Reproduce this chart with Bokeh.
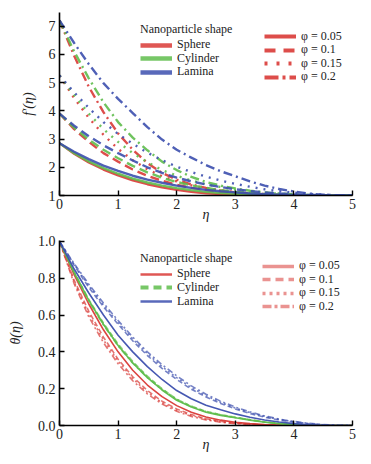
from bokeh.plotting import figure
from bokeh.models import Legend, LegendItem, Range1d, FixedTicker, NumeralTickFormatter
from bokeh.layouts import column
from bokeh.embed import file_html
from bokeh.resources import INLINE

eta = [0.0, 0.25, 0.5, 0.75, 1.0, 1.25, 1.5, 1.75, 2.0, 2.25, 2.5, 2.75,
       3.0, 3.25, 3.5, 3.75, 4.0, 4.25, 4.5, 4.75, 5.0]

shapes = ["Sphere", "Cylinder", "Lamina"]
phis = ["0.05", "0.1", "0.15", "0.2"]

# f'(eta) -- top panel
f_sphere_005 = [2.85, 2.48, 2.17, 1.92, 1.71, 1.54, 1.40, 1.29, 1.20, 1.13, 1.08, 1.05, 1.03, 1.02, 1.01, 1.0, 1.0, 1.0, 1.0, 1.0, 1.0]
f_cyl_005 = [2.85, 2.50, 2.21, 1.97, 1.77, 1.60, 1.46, 1.35, 1.26, 1.19, 1.13, 1.09, 1.06, 1.04, 1.02, 1.01, 1.0, 1.0, 1.0, 1.0, 1.0]
f_lam_005 = [2.85, 2.55, 2.29, 2.06, 1.87, 1.70, 1.56, 1.45, 1.35, 1.27, 1.20, 1.15, 1.11, 1.07, 1.05, 1.03, 1.02, 1.01, 1.0, 1.0, 1.0]
f_sphere_01 = [3.9, 3.35, 2.9, 2.5, 2.2, 1.92, 1.7, 1.52, 1.38, 1.27, 1.19, 1.13, 1.08, 1.05, 1.03, 1.01, 1.0, 1.0, 1.0, 1.0, 1.0]
f_cyl_01 = [3.9, 3.4, 2.98, 2.62, 2.32, 2.05, 1.82, 1.63, 1.48, 1.36, 1.27, 1.19, 1.13, 1.09, 1.05, 1.03, 1.01, 1.0, 1.0, 1.0, 1.0]
f_lam_01 = [3.9, 3.47, 3.1, 2.78, 2.5, 2.24, 2.0, 1.8, 1.63, 1.5, 1.39, 1.3, 1.22, 1.16, 1.11, 1.07, 1.04, 1.02, 1.01, 1.0, 1.0]
f_sphere_015 = [5.25, 4.45, 3.75, 3.15, 2.65, 2.25, 1.93, 1.68, 1.5, 1.36, 1.26, 1.18, 1.12, 1.08, 1.05, 1.03, 1.01, 1.0, 1.0, 1.0, 1.0]
f_cyl_015 = [5.25, 4.55, 3.9, 3.35, 2.9, 2.5, 2.18, 1.9, 1.7, 1.53, 1.4, 1.3, 1.21, 1.15, 1.1, 1.06, 1.03, 1.01, 1.0, 1.0, 1.0]
f_lam_015 = [5.25, 4.65, 4.1, 3.6, 3.18, 2.83, 2.52, 2.25, 2.02, 1.83, 1.67, 1.53, 1.41, 1.31, 1.22, 1.15, 1.1, 1.06, 1.03, 1.01, 1.0]
f_sphere_02 = [7.2, 5.95, 4.85, 3.95, 3.2, 2.62, 2.15, 1.8, 1.56, 1.39, 1.27, 1.18, 1.11, 1.07, 1.04, 1.02, 1.01, 1.0, 1.0, 1.0, 1.0]
f_cyl_02 = [7.2, 6.1, 5.15, 4.3, 3.6, 3.05, 2.6, 2.2, 1.9, 1.66, 1.48, 1.35, 1.25, 1.17, 1.11, 1.07, 1.04, 1.02, 1.01, 1.0, 1.0]
f_lam_02 = [7.2, 6.4, 5.65, 4.98, 4.42, 3.92, 3.42, 2.98, 2.62, 2.34, 2.08, 1.86, 1.68, 1.5, 1.35, 1.23, 1.14, 1.07, 1.03, 1.01, 1.0]

# theta(eta) -- bottom panel
t_sph_005 = [1.0, 0.82, 0.66, 0.52, 0.40, 0.30, 0.22, 0.157, 0.108, 0.072, 0.046, 0.029, 0.018, 0.01, 0.005, 0.002, 0.0, 0.0, 0.0, 0.0, 0.0]
t_sph_01 = [1.0, 0.79, 0.62, 0.48, 0.36, 0.265, 0.19, 0.132, 0.09, 0.059, 0.037, 0.022, 0.013, 0.007, 0.003, 0.001, 0.0, 0.0, 0.0, 0.0, 0.0]
t_sph_015 = [1.0, 0.78, 0.605, 0.465, 0.35, 0.255, 0.18, 0.124, 0.083, 0.054, 0.034, 0.02, 0.012, 0.006, 0.003, 0.001, 0.0, 0.0, 0.0, 0.0, 0.0]
t_sph_02 = [1.0, 0.77, 0.59, 0.45, 0.335, 0.243, 0.171, 0.117, 0.077, 0.049, 0.03, 0.018, 0.01, 0.005, 0.002, 0.0, 0.0, 0.0, 0.0, 0.0, 0.0]
t_cyl_005 = [1.0, 0.83, 0.68, 0.55, 0.435, 0.34, 0.26, 0.193, 0.137, 0.1, 0.072, 0.055, 0.042, 0.029, 0.018, 0.01, 0.005, 0.002, 0.0, 0.0, 0.0]
t_cyl_01 = [1.0, 0.835, 0.685, 0.557, 0.443, 0.348, 0.268, 0.2, 0.143, 0.105, 0.077, 0.059, 0.045, 0.032, 0.02, 0.012, 0.006, 0.002, 0.0, 0.0, 0.0]
t_cyl_015 = [1.0, 0.832, 0.68, 0.55, 0.437, 0.343, 0.264, 0.198, 0.142, 0.104, 0.076, 0.058, 0.044, 0.031, 0.02, 0.011, 0.005, 0.002, 0.0, 0.0, 0.0]
t_cyl_02 = [1.0, 0.828, 0.675, 0.545, 0.432, 0.338, 0.26, 0.195, 0.14, 0.102, 0.075, 0.057, 0.043, 0.03, 0.019, 0.011, 0.005, 0.002, 0.0, 0.0, 0.0]
t_lam_005 = [1.0, 0.85, 0.72, 0.6, 0.49, 0.40, 0.32, 0.25, 0.19, 0.145, 0.11, 0.085, 0.063, 0.045, 0.03, 0.019, 0.01, 0.004, 0.0, 0.0, 0.0]
t_lam_01 = [1.0, 0.87, 0.75, 0.645, 0.55, 0.46, 0.38, 0.31, 0.25, 0.197, 0.155, 0.12, 0.09, 0.065, 0.045, 0.03, 0.018, 0.009, 0.003, 0.0, 0.0]
t_lam_015 = [1.0, 0.875, 0.76, 0.655, 0.56, 0.47, 0.39, 0.32, 0.26, 0.206, 0.162, 0.126, 0.095, 0.07, 0.049, 0.033, 0.02, 0.011, 0.004, 0.001, 0.0]
t_lam_02 = [1.0, 0.88, 0.768, 0.665, 0.57, 0.48, 0.40, 0.33, 0.27, 0.215, 0.17, 0.132, 0.1, 0.074, 0.052, 0.035, 0.022, 0.012, 0.005, 0.001, 0.0]

x_ticks = [0, 1, 2, 3, 4, 5]
f_ticks = [1, 2, 3, 4, 5, 6, 7]
t_ticks = [0.0, 0.2, 0.4, 0.6, 0.8, 1.0]

# off-frame stand-in points for legend swatches
key_x = [-9.0, -8.0]
key_y = [-9.0, -9.0]

RED, GREEN, BLUE = "#d93a36", "#5fbd4c", "#3c4fae"
colors = {"Sphere": RED, "Cylinder": GREEN, "Lamina": BLUE}
FONT = "Liberation Serif"

f_data = {
    "Sphere": [f_sphere_005, f_sphere_01, f_sphere_015, f_sphere_02],
    "Cylinder": [f_cyl_005, f_cyl_01, f_cyl_015, f_cyl_02],
    "Lamina": [f_lam_005, f_lam_01, f_lam_015, f_lam_02],
}
t_data = {
    "Sphere": [t_sph_005, t_sph_01, t_sph_015, t_sph_02],
    "Cylinder": [t_cyl_005, t_cyl_01, t_cyl_015, t_cyl_02],
    "Lamina": [t_lam_005, t_lam_01, t_lam_015, t_lam_02],
}


def style(p, ylabel, yticks, lstand):
    p.outline_line_color = None
    p.xgrid.visible = False
    p.ygrid.visible = False
    p.background_fill_color = "white"
    for ax in (p.xaxis[0], p.yaxis[0]):
        ax.axis_line_width = 1.6
        ax.axis_line_color = "black"
        ax.major_tick_in = 5
        ax.major_tick_out = 0
        ax.major_tick_line_width = 1.4
        ax.minor_tick_line_color = None
        ax.major_label_text_font = FONT
        ax.major_label_text_font_size = "14px"
        ax.major_label_text_color = "#222222"
        ax.axis_label_text_font = FONT
        ax.axis_label_text_font_style = "italic"
        ax.axis_label_text_font_size = "14px"
        ax.axis_label_text_color = "#222222"
    p.xaxis[0].ticker = FixedTicker(ticks=x_ticks)
    p.yaxis[0].ticker = FixedTicker(ticks=yticks)
    p.xaxis[0].axis_label = "η"
    p.yaxis[0].axis_label = ylabel
    p.xaxis[0].major_label_standoff = 3
    p.xaxis[0].axis_label_standoff = -5
    p.yaxis[0].major_label_standoff = 4
    p.yaxis[0].axis_label_standoff = lstand


COMMON = dict(
    border_line_color=None, background_fill_alpha=0, padding=0, margin=0,
    label_text_font=FONT, label_text_font_size="12px", label_text_color="#222222",
    glyph_width=32, glyph_height=12, label_height=12, spacing=0, label_standoff=5,
)


def legends(p, shape_items, phi_items, vx1, vys1, vx2, vys2):
    # one legend per entry so the row pitch matches the original
    for k, (item, vy) in enumerate(zip(shape_items, vys1)):
        extra = {}
        if k == 0:
            extra = dict(title="Nanoparticle shape", title_text_font=FONT,
                         title_text_font_size="12px", title_text_font_style="normal",
                         title_text_color="#222222", title_standoff=-2)
        p.add_layout(Legend(items=[item], location=(vx1, vy), **extra, **COMMON))
    for item, vy in zip(phi_items, vys2):
        p.add_layout(Legend(items=[item], location=(vx2, vy), **COMMON))


# ---------- top panel ----------
p1 = figure(width=358, height=228, output_backend="svg", toolbar_location=None,
            x_range=Range1d(0, 5), y_range=Range1d(1, 7.48),
            min_border_left=59, min_border_right=6, min_border_top=12, min_border_bottom=33)
style(p1, "f′(η)", f_ticks, 10)
dash_top = ["solid", "9 5", "2 6", "9 4 2 4"]
for s in shapes:
    for i in range(4):
        p1.line(eta, f_data[s][i], line_color=colors[s], line_width=2.4,
                line_dash=dash_top[i], line_alpha=0.9)

shape_items = []
for s in shapes:
    r = p1.line(key_x, key_y, line_color=colors[s], line_width=4.5, line_alpha=0.85)
    shape_items.append(LegendItem(label=s, renderers=[r]))
phi_items = []
for i, ph in enumerate(phis):
    r = p1.line(key_x, key_y, line_color=RED, line_width=4, line_alpha=0.9,
                line_dash=["solid", "11 8", "3 9", "14 4 3 4"][i])
    phi_items.append(LegendItem(label="φ = " + ph, renderers=[r]))
legends(p1, shape_items, phi_items, 81, [143, 129.4, 115.8], 205, [151.4, 137.8, 124.2, 110.6])

# ---------- bottom panel ----------
p2 = figure(width=358, height=234, output_backend="svg", toolbar_location=None,
            x_range=Range1d(0, 5), y_range=Range1d(0, 1.005),
            min_border_left=59, min_border_right=6, min_border_top=12, min_border_bottom=37)
style(p2, "θ(η)", t_ticks, 12)
p2.yaxis[0].formatter = NumeralTickFormatter(format="0.0")
dash_bot = ["solid", "5 3", "2 3", "6 3 2 3"]
for s in shapes:
    for i in range(4):
        p2.line(eta, t_data[s][i], line_color=colors[s], line_width=1.6,
                line_dash=dash_bot[i], line_alpha=0.95 if i == 0 else 0.7)

shape_items2 = []
for s, d, w in zip(shapes, ["solid", "8 5", "solid"], [2.5, 4, 2.5]):
    r = p2.line(key_x, key_y, line_color=colors[s], line_width=w, line_alpha=0.85, line_dash=d)
    shape_items2.append(LegendItem(label=s, renderers=[r]))
phi_items2 = []
for i, ph in enumerate(phis):
    r = p2.line(key_x, key_y, line_color=RED, line_width=3.5, line_alpha=0.55,
                line_dash=["solid", "8 5", "3 4", "9 3 3 3"][i])
    phi_items2.append(LegendItem(label="φ = " + ph, renderers=[r]))
legends(p2, shape_items2, phi_items2, 81, [143.7, 130.1, 116.5], 203, [152, 138.4, 124.8, 111.2])

layout = column(p1, p2, spacing=0)
open("out.html", "w").write(file_html(layout, INLINE))
